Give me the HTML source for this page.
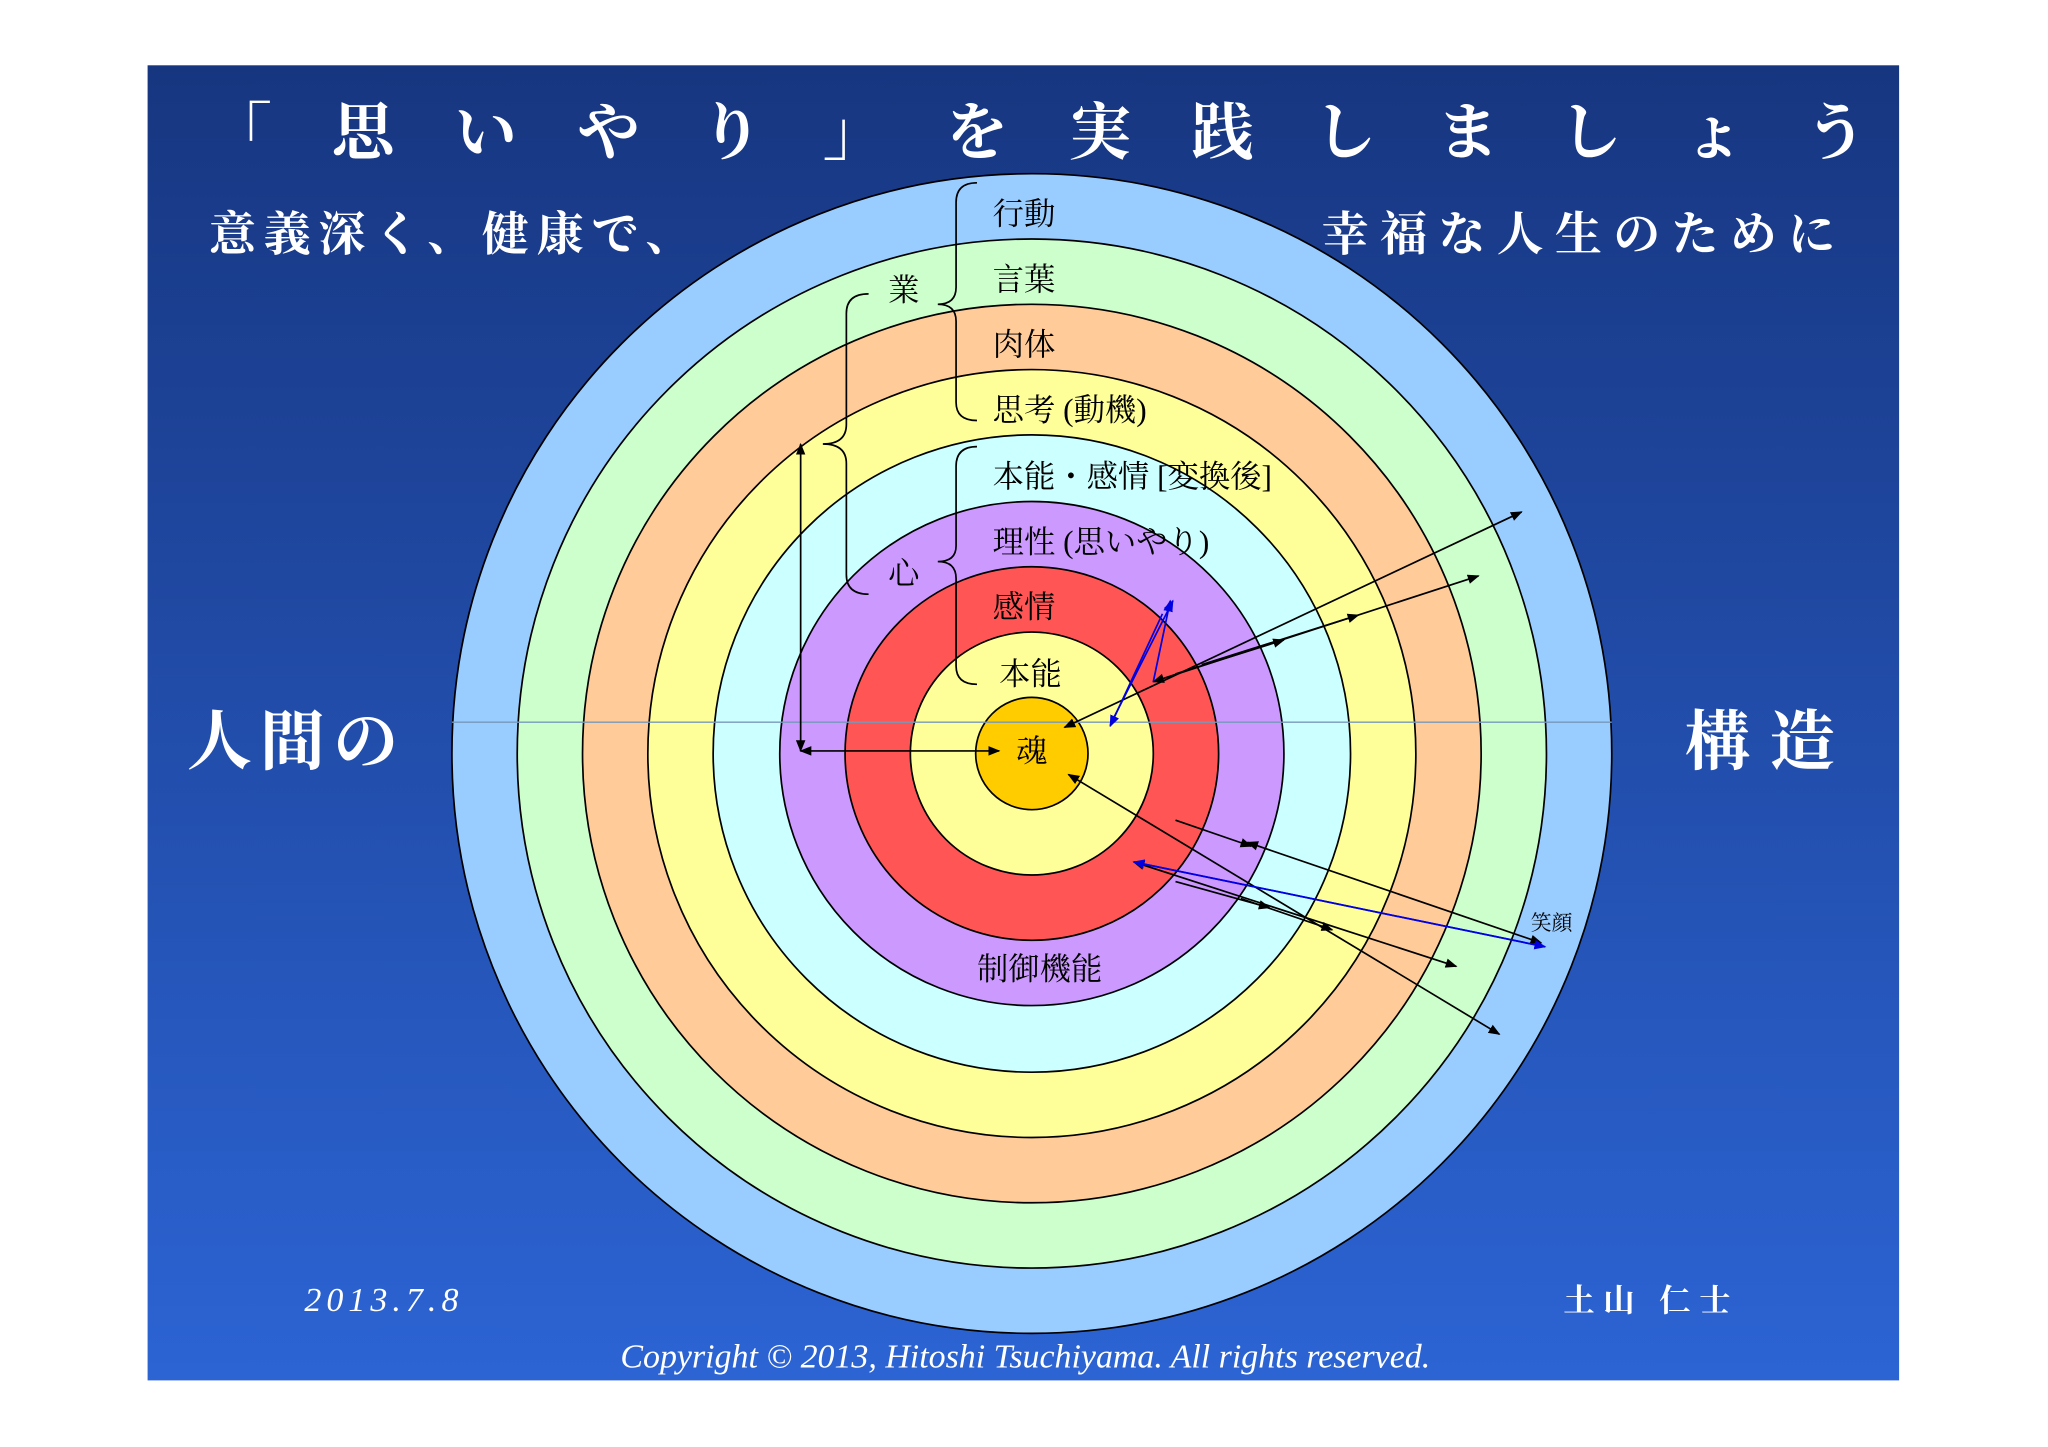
<!DOCTYPE html>
<html><head><meta charset="utf-8"><style>
html,body{margin:0;padding:0;background:#fff;width:2048px;height:1447px;overflow:hidden}
svg{display:block}
text{font-family:"Liberation Serif","Noto Serif CJK SC","Noto Sans CJK JP",serif}
</style></head><body>
<svg width="2048" height="1447" viewBox="0 0 1568 1108" preserveAspectRatio="none" xmlns="http://www.w3.org/2000/svg">
<defs>
<linearGradient id="bg" x1="0" y1="0" x2="0" y2="1"><stop offset="0" stop-color="#173680"/><stop offset="1" stop-color="#2c64d4"/></linearGradient>
<marker id="ah" viewBox="0 0 10 10" refX="9" refY="5" markerWidth="7" markerHeight="7" orient="auto-start-reverse"><path d="M0,1 L10,5 L0,9z" fill="#000"/></marker>
<marker id="bh" viewBox="0 0 10 10" refX="9" refY="5" markerWidth="7" markerHeight="7" orient="auto-start-reverse"><path d="M0,1 L10,5 L0,9z" fill="#0000e0"/></marker>
</defs>
<rect x="113" y="50" width="1341" height="1007" fill="url(#bg)"/>
<g stroke="#000" stroke-width="1.3">
<circle cx="790" cy="577" r="444" fill="#99ccff"/>
<circle cx="790" cy="577" r="394" fill="#ccffcc"/>
<circle cx="790" cy="577" r="344" fill="#ffcc99"/>
<circle cx="790" cy="577" r="294" fill="#ffff99"/>
<circle cx="790" cy="577" r="244" fill="#ccffff"/>
<circle cx="790" cy="577" r="193" fill="#cc99ff"/>
<circle cx="790" cy="577" r="143" fill="#ff5555"/>
<circle cx="790" cy="577" r="93" fill="#ffff99"/>
<circle cx="790" cy="577" r="43" fill="#ffcc00"/>
</g>
<line x1="346" y1="553" x2="1234" y2="553" stroke="#7799bb" stroke-width="1"/>
<g fill="none" stroke="#000" stroke-width="1.3">
<path d="M748,140 Q732,140 732,155 L732,220 Q732,233 718,233 Q732,233 732,246 L732,308 Q732,322 748,322"/>
<path d="M748,342 Q732,342 732,357 L732,418 Q732,430 718,430 Q732,430 732,443 L732,510 Q732,524 748,524"/>
<path d="M665,225 Q648,225 648,240 L648,325 Q648,340 630,340 Q648,340 648,355 L648,440 Q648,455 665,455"/>
</g>
<g stroke="#000" stroke-width="1.3" fill="none" marker-end="url(#ah)" marker-start="url(#ah)">
<line x1="613" y1="575" x2="613" y2="340"/>
<line x1="613" y1="575" x2="765" y2="575"/>
<line x1="815" y1="557" x2="1165" y2="392"/>
<line x1="883" y1="522" x2="1132" y2="441"/>
<line x1="818" y1="593" x2="1148" y2="792"/>
<line x1="868" y1="660" x2="1115" y2="740"/>
<line x1="955" y1="645" x2="1180" y2="722"/>
</g>
<g stroke="#000" stroke-width="1.3" marker-end="url(#ah)">
<line x1="900" y1="516" x2="983" y2="490"/>
<line x1="920" y1="509" x2="1040" y2="471"/>
<line x1="900" y1="628" x2="958" y2="648"/>
<line x1="900" y1="675" x2="972" y2="695"/>
<line x1="950" y1="688" x2="1020" y2="712"/>
</g>
<g stroke="#0000e0" stroke-width="1.3" fill="none" marker-end="url(#bh)">
<line x1="850" y1="555" x2="898" y2="460"/>
<line x1="883" y1="522" x2="896" y2="460"/>
<line x1="890" y1="470" x2="850" y2="556"/>
<line x1="1183" y1="725" x2="868" y2="660"/>
<line x1="868" y1="660" x2="1183" y2="725"/>
</g>
<g font-size="24" fill="#000">
<text x="760" y="172">行動</text>
<text x="760" y="222">言葉</text>
<text x="760" y="272">肉体</text>
<text x="760" y="322">思考 (動機)</text>
<text x="760" y="373">本能・感情 [変換後]</text>
<text x="760" y="423">理性 (思いやり)</text>
<text x="760" y="473">感情</text>
<text x="765" y="524">本能</text>
<text x="680" y="230">業</text>
<text x="680" y="447">心</text>
<text x="778" y="583">魂</text>
<text x="748" y="750">制御機能</text>
<text x="1172" y="712" font-size="16">笑顔</text>
</g>
<g fill="#fff" font-family="'Noto Serif CJK JP','Noto Sans CJK JP',serif" font-weight="bold">
<text x="160" y="118" font-size="48" textLength="1270" lengthAdjust="spacing">「思いやり」を実践しましょう</text>
<text x="160" y="192" font-size="36" textLength="370" lengthAdjust="spacing">意義深く、健康で、</text>
<text x="1012" y="192" font-size="36" textLength="393" lengthAdjust="spacing">幸福な人生のために</text>
<text x="143" y="585" font-size="50" textLength="162" lengthAdjust="spacing">人間の</text>
<text x="1290" y="585" font-size="50" textLength="115" lengthAdjust="spacing">構造</text>
<text x="233" y="1004" font-size="26" font-style="italic" font-weight="normal" textLength="118" lengthAdjust="spacing">2013.7.8</text>
<text x="1197" y="1004" font-size="24" textLength="128" lengthAdjust="spacing">土山 仁士</text>
</g>
<text x="785" y="1047" fill="#fff" font-size="26" font-style="italic" text-anchor="middle" textLength="620" lengthAdjust="spacingAndGlyphs">Copyright © 2013, Hitoshi Tsuchiyama. All rights reserved.</text>
</svg>
</body></html>
